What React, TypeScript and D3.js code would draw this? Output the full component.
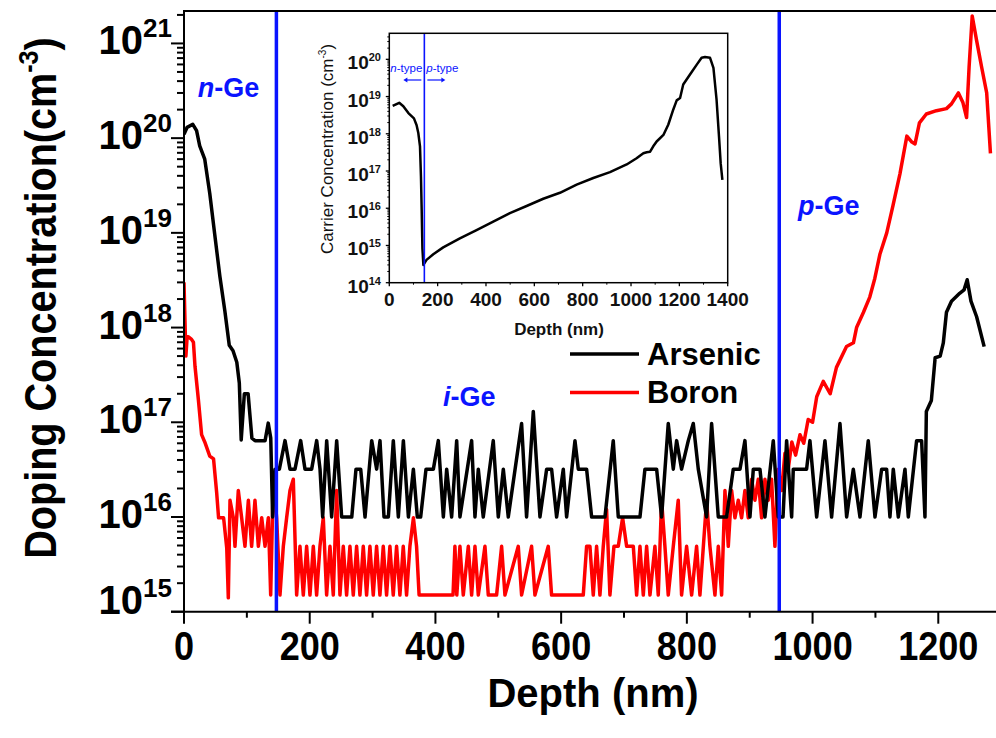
import React from 'react';
import * as d3 from 'd3';

// ---------- data (depth nm, concentration cm^-3) ----------
const arsenic: [number, number][] = [
  [0, 1.1e20], [5, 1.3e20], [14, 1.4e20], [20, 1.2e20], [25, 8.3e19], [33, 6e19], [41, 2.6e19],
  [49, 9.5e18], [57, 3.5e18], [65, 1.5e18], [72, 6.5e17], [78, 5.7e17], [84, 4.3e17], [88, 2.6e17],
  [91, 6.5e16], [96, 2e17], [102, 2e17], [108, 6.8e16], [113, 6.4e16], [129, 6.4e16], [134, 9.8e16],
  [138, 6.8e16], [141, 1e16], [145, 3.2e16], [151.7, 3.2e16], [160.7, 6.4e16], [168.6, 3.2e16],
  [176.6, 3.2e16], [185.6, 6.4e16], [192.5, 3.2e16], [203.1, 3.2e16], [211.1, 6.4e16], [216.4, 3.2e16],
  [220.6, 1e16], [227, 6.4e16], [234.9, 1e16], [242.9, 6.4e16], [250.8, 1e16], [266.9, 1e16],
  [273.6, 3.2e16], [281.1, 3.2e16], [288, 1e16], [298.6, 6.4e16], [306.5, 3.2e16], [311.8, 6.4e16],
  [318.2, 1e16], [325.1, 1e16], [333, 6.4e16], [341, 1e16], [349, 6.4e16], [357, 1e16], [364.9, 3.2e16],
  [371.2, 1e16], [376.5, 1e16], [385, 3.2e16], [396.7, 3.2e16], [404.6, 6.4e16], [412.6, 1e16],
  [417.9, 3.2e16], [425.8, 1e16], [433.8, 6.4e16], [439, 1e16], [457.6, 6.4e16], [462.9, 1e16],
  [468.2, 3.2e16], [476.1, 1e16], [492, 6.4e16], [500, 1e16], [508, 3.2e16], [515.9, 1e16],
  [537.1, 9.7e16], [545, 1e16], [555.7, 1.3e17], [566.3, 1e16], [576.9, 3.2e16], [584.8, 3.2e16],
  [592.8, 1e16], [603.4, 3.2e16], [608.7, 1e16], [622, 6.4e16], [627.3, 3.2e16], [640.5, 3.2e16],
  [648.5, 1e16], [669.7, 1e16], [682.9, 6.4e16], [690.9, 1e16], [725.4, 1e16], [733.3, 3.2e16],
  [751.9, 3.2e16], [759.8, 1e16], [770.4, 9.7e16], [778.4, 3.2e16], [783.7, 6.4e16], [791.6, 3.2e16],
  [802.3, 6.4e16], [810.2, 9.7e16], [818.2, 3.2e16], [831.4, 1e16], [839.4, 9.7e16], [850, 1e16],
  [863.2, 1e16], [873.8, 3.2e16], [884.5, 3.2e16], [892.4, 6.4e16], [900.4, 1e16], [905.7, 3.2e16],
  [916.3, 3.2e16], [924.2, 1e16], [937.5, 6.4e16], [945.4, 1e16], [953, 1e16], [958.7, 6.4e16],
  [966.7, 1e16], [969.3, 3.2e16], [990.5, 3.2e16], [995.8, 6.4e16], [1006.5, 1e16], [1019.7, 6.4e16],
  [1030.3, 1e16], [1043.6, 9.7e16], [1054.2, 1e16], [1064.8, 3.2e16], [1075.4, 1e16], [1088.6, 6.4e16],
  [1099.3, 1e16], [1109.9, 3.2e16], [1117.8, 3.2e16], [1123.1, 1e16], [1128.4, 3.2e16], [1136.4, 1e16],
  [1147, 3.2e16], [1152.3, 1e16], [1165.5, 6.4e16], [1173.5, 6.4e16], [1178.8, 1e16], [1181, 1.3e17],
  [1189, 1.7e17], [1195, 4.8e17], [1203, 5e17], [1208, 6.9e17], [1213, 1.45e18], [1221, 1.9e18],
  [1234, 2.3e18], [1241, 2.5e18], [1246, 3.2e18], [1252, 1.9e18], [1261, 1.3e18], [1273, 6.3e17],
];

const boron: [number, number][] = [
  [0, 3e18], [3, 5e17], [5, 8e17], [7, 8e17], [12, 7.5e17], [15, 7e17], [17.5, 3.9e17], [23, 1.7e17],
  [28, 7.4e16], [33, 6.2e16], [41, 4.4e16], [47, 4.1e16], [52, 1.8e16], [55, 9.8e15], [63, 9.8e15],
  [68, 4.7e15], [70.5, 1.4e15], [73.2, 1.5e16], [78.5, 9.8e15], [81.1, 4.9e15], [86.4, 1.9e16],
  [91.7, 9.8e15], [97, 4.9e15], [102.4, 1.5e16], [107.6, 4.9e15], [112.9, 1.5e16], [118.3, 4.9e15],
  [123.6, 9.8e15], [128.9, 4.9e15], [134.2, 9.8e15], [137.9, 1.5e15], [142.1, 2.5e16], [147.4, 9.8e15],
  [152.7, 1.5e15], [158, 4.9e15], [163.3, 9.8e15], [168.6, 1.9e16], [173.9, 2.5e16], [179.2, 1.5e15],
  [184.5, 4.9e15], [189.8, 1.5e15], [195.1, 4.9e15], [200.4, 1.5e15], [205.7, 4.9e15], [211, 1.5e15],
  [216.3, 4.9e15], [221.6, 9.8e15], [226.9, 1.5e15], [232.2, 4.9e15], [237.5, 1.5e15], [242.8, 1.9e16],
  [248.1, 1.5e15], [253.4, 4.9e15], [258.7, 1.5e15], [264, 4.9e15], [269.3, 1.5e15], [274.6, 4.9e15],
  [279.9, 1.5e15], [285.2, 4.9e15], [290.5, 1.5e15], [295.8, 4.9e15], [301.1, 1.5e15], [306.4, 4.9e15],
  [311.7, 1.5e15], [317, 4.9e15], [322.3, 1.5e15], [327.6, 4.9e15], [332.9, 1.5e15], [338.2, 4.9e15],
  [343.5, 1.5e15], [348.8, 4.9e15], [354.1, 1.5e15], [359.4, 4.9e15], [365, 9.8e15], [370, 4.9e15],
  [374, 1.5e15], [428, 1.5e15], [431, 4.9e15], [434, 1.5e15], [439, 4.9e15], [444.3, 1.5e15],
  [452.3, 4.9e15], [457.6, 1.5e15], [462.9, 4.9e15], [468.2, 1.5e15], [478.8, 4.9e15], [484.1, 1.5e15],
  [497.3, 1.5e15], [505.3, 4.9e15], [510.6, 1.5e15], [531.8, 4.9e15], [537.1, 1.5e15], [553, 4.9e15],
  [558.3, 1.5e15], [579.5, 4.9e15], [584.8, 1.5e15], [635.2, 1.5e15], [640.5, 4.9e15], [645.8, 4.9e15],
  [651.1, 1.5e15], [656.4, 4.9e15], [661.7, 1.5e15], [667, 4.9e15], [672.3, 1.2e16], [677.6, 1.5e15],
  [684, 4.9e15], [690.9, 4.9e15], [697.8, 9.8e15], [704.2, 4.9e15], [714.8, 4.9e15], [720.1, 1.5e15],
  [725.4, 4.9e15], [730.7, 1.5e15], [736, 4.9e15], [741.3, 1.5e15], [749.2, 4.9e15], [754.5, 1.5e15],
  [759.8, 1.5e16], [765.1, 4.9e15], [770.4, 1.5e15], [778.4, 4.9e15], [786.3, 1.5e16], [791.6, 1.5e15],
  [799.6, 4.9e15], [807.6, 1.5e15], [815.5, 4.9e15], [820.8, 1.5e15], [831.4, 1.5e16], [836.7, 4.9e15],
  [844.7, 1.5e15], [850, 4.9e15], [855.3, 1.5e15], [860.6, 1.9e16], [865.9, 4.9e15], [871.2, 1.9e16],
  [876.5, 9.8e15], [881.8, 1.5e16], [887.1, 9.8e15], [892.4, 1.9e16], [897.7, 9.8e15], [903, 2.5e16],
  [908.3, 1.5e16], [913.6, 2.5e16], [918.9, 9.8e15], [924.2, 2.5e16], [929.5, 1.5e16], [934.8, 2.5e16],
  [940.1, 4.9e15], [945.4, 3.2e16], [950.7, 1.9e16], [956, 4.7e16], [961.3, 3.2e16], [967, 6.2e16],
  [973, 4.5e16], [980, 7.4e16], [986, 6e16], [993, 1.07e17], [1000, 1e17], [1006.6, 1.86e17],
  [1017, 2.7e17], [1028, 2e17], [1038, 3.8e17], [1054, 6.3e17], [1065, 6.9e17], [1070, 1e18],
  [1081, 1.45e18], [1091, 2.1e18], [1099, 3.3e18], [1107, 5.9e18], [1118, 1e19], [1128, 1.95e19],
  [1139, 4.2e19], [1150, 1.05e20], [1158, 9.1e19], [1163, 8.7e19], [1170, 1.45e20], [1181, 1.8e20],
  [1197, 1.95e20], [1213, 2.05e20], [1221, 2.3e20], [1232, 3e20], [1239, 2.4e20], [1245, 1.65e20],
  [1249, 5.6e20], [1254, 1.95e21], [1261, 1.07e21], [1269, 5.6e20], [1277, 3e20], [1283, 6.9e19],
];

const carrier: [number, number][] = [
  [14, 5.6e18], [41, 6.8e18], [58, 5.5e18], [79, 3.6e18], [102, 2.6e18], [113, 1.7e18], [120, 1.05e18],
  [127, 4.6e17], [131, 7e16], [134, 9e15], [137, 8.3e14], [141, 3e14], [154, 4.1e14], [182, 5.8e14],
  [223, 8.9e14], [292, 1.55e15], [361, 2.6e15], [430, 4.4e15], [499, 7.4e15], [568, 1.15e16],
  [637, 1.8e16], [706, 2.6e16], [775, 4.3e16], [844, 6.5e16], [913, 9.3e16], [982, 1.5e17],
  [1023, 2.2e17], [1051, 3e17], [1065, 3.2e17], [1079, 3.3e17], [1092, 4.6e17], [1106, 6.2e17],
  [1134, 9.3e17], [1154, 1.75e18], [1175, 4.5e18], [1189, 7.9e18], [1203, 9.1e18], [1216, 2.1e19],
  [1244, 3.9e19], [1272, 7.2e19], [1292, 1.1e20], [1306, 1.15e20], [1327, 1.1e20], [1341, 5.9e19],
  [1354, 8.1e18], [1364, 8.5e17], [1371, 1.6e17], [1378, 5.8e16],
];

const mainXTicks = [0, 200, 400, 600, 800, 1000, 1200];
const mainXMinor = [100, 300, 500, 700, 900, 1100];
const mainYExps = [15, 16, 17, 18, 19, 20, 21];
const insetXTicks = [0, 200, 400, 600, 800, 1000, 1200, 1400];
const insetXMinor = [100, 300, 500, 700, 900, 1100, 1300];
const insetYExps = [14, 15, 16, 17, 18, 19, 20];
const junctions = [147, 947];
const insetJunction = 145;
const regionLabels = [
  { pre: 'n', rest: '-Ge', depth: 22, conc: 2.7e20 },
  { pre: 'i', rest: '-Ge', depth: 412, conc: 1.5e17 },
  { pre: 'p', rest: '-Ge', depth: 977, conc: 1.55e19 },
];
const legendItems = [
  { name: 'Arsenic', color: '#000000' },
  { name: 'Boron', color: '#ff0000' },
];

const FONT = '"Liberation Sans", Arial, sans-serif';
const BLUE = '#0a14ff';

function minorLogs(lo: number, hi: number, exps: number[]) {
  const out: number[] = [];
  exps.concat([exps[exps.length - 1] + 1]).forEach((e) => {
    for (let k = 2; k <= 9; k++) {
      const v = k * Math.pow(10, e);
      if (v > lo && v < hi) out.push(v);
    }
  });
  return out;
}

export default function App() {
  // main plot
  const L = 184, R = 998, T = 11, B = 611.7;
  const x = d3.scaleLinear().domain([0, 1295]).range([L, R]);
  const y = d3.scaleLog().domain([1e15, 2.2e21]).range([B, T]);
  const line = d3.line<[number, number]>().x((d) => x(d[0])).y((d) => y(d[1]));
  const yMinor = minorLogs(1e15, 2.2e21, mainYExps);

  // inset
  const iL = 389.3, iR = 727.7, iT = 33.3, iB = 282.7;
  const ix = d3.scaleLinear().domain([0, 1400]).range([iL, iR]);
  const iy = d3.scaleLog().domain([1e14, 5e20]).range([iB, iT]);
  const iline = d3.line<[number, number]>().x((d) => ix(d[0])).y((d) => iy(d[1]));
  const iyMinor = minorLogs(1e14, 5e20, insetYExps);

  return (
    <svg width={996} height={738} style={{ position: 'absolute', left: 0, top: 0, background: '#fff' }}
      fontFamily={FONT}>
      <rect x={0} y={0} width={996} height={738} fill="#fff" />
      <defs>
        <clipPath id="mainClip"><rect x={L} y={T} width={R - L} height={B - T} /></clipPath>
      </defs>

      {/* curves */}
      <g clipPath="url(#mainClip)" fill="none" strokeLinejoin="round">
        <path d={line(boron) || ''} stroke="#ff0000" strokeWidth={3.5} />
        <path d={line(arsenic) || ''} stroke="#000" strokeWidth={3.5} />
      </g>

      {/* junction lines */}
      {junctions.map((j) => (
        <line key={j} x1={x(j)} x2={x(j)} y1={T} y2={B} stroke={BLUE} strokeWidth={3.5} />
      ))}

      {/* frame */}
      <line x1={L} x2={L} y1={T} y2={B} stroke="#000" strokeWidth={2} />
      <line x1={L - 13} x2={R} y1={B} y2={B} stroke="#000" strokeWidth={2} />
      <line x1={L - 1} x2={R} y1={T} y2={T} stroke="#000" strokeWidth={2} />

      {/* x ticks */}
      {mainXTicks.map((t) => (
        <g key={t}>
          <line x1={x(t)} x2={x(t)} y1={B} y2={B + 12} stroke="#000" strokeWidth={2} />
          <text transform={`translate(${x(t)},660) scale(0.88,1)`} textAnchor="middle" fontSize={41}
            fontWeight="bold">{t}</text>
        </g>
      ))}
      {mainXMinor.map((t) => (
        <line key={t} x1={x(t)} x2={x(t)} y1={B} y2={B + 6} stroke="#000" strokeWidth={2} />
      ))}
      <text x={593} y={707} textAnchor="middle" fontSize={40} fontWeight="bold">Depth (nm)</text>

      {/* y ticks */}
      {mainYExps.map((e) => (
        <g key={e}>
          <line x1={L - 13} x2={L} y1={y(Math.pow(10, e))} y2={y(Math.pow(10, e))} stroke="#000" strokeWidth={2} />
          <text x={172} y={Math.min(y(Math.pow(10, e)) + 11, B + 2)} textAnchor="end" fontWeight="bold">
            <tspan fontSize={40}>10</tspan>
            <tspan fontSize={26} dy={-17}>{e}</tspan>
          </text>
        </g>
      ))}
      {yMinor.map((v) => (
        <line key={v} x1={L - 7} x2={L} y1={y(v)} y2={y(v)} stroke="#000" strokeWidth={2} />
      ))}
      <text transform={`translate(56,298) rotate(-90) scale(0.9,1)`} textAnchor="middle" fontSize={44}
        fontWeight="bold">
        Doping Concentration(cm<tspan fontSize={28} dy={-18}>-3</tspan><tspan dy={18}>)</tspan>
      </text>

      {/* region labels */}
      {regionLabels.map((r) => (
        <text key={r.pre} x={x(r.depth)} y={y(r.conc)} fontSize={27} fontWeight="bold" fill={BLUE}>
          <tspan fontStyle="italic">{r.pre}</tspan>{r.rest}
        </text>
      ))}

      {/* legend */}
      {legendItems.map((it, i) => (
        <g key={it.name}>
          <line x1={570} x2={639} y1={354 + i * 38.5} y2={354 + i * 38.5} stroke={it.color} strokeWidth={3.5} />
          <text x={647} y={364.5 + i * 38.5} fontSize={31} fontWeight="bold">{it.name}</text>
        </g>
      ))}

      {/* ------- inset ------- */}
      <rect x={iL} y={iT} width={iR - iL} height={iB - iT} fill="#fff" />
      <path d={iline(carrier) || ''} fill="none" stroke="#000" strokeWidth={2.5} strokeLinejoin="round" />
      <line x1={ix(insetJunction)} x2={ix(insetJunction)} y1={iT} y2={iB} stroke={BLUE} strokeWidth={1.6} />
      <rect x={iL} y={iT} width={iR - iL} height={iB - iT} fill="none" stroke="#000" strokeWidth={1.5} />
      {insetYExps.map((e) => (
        <g key={e}>
          <line x1={iL - 3.5} x2={iL} y1={iy(Math.pow(10, e))} y2={iy(Math.pow(10, e))} stroke="#000" strokeWidth={1.3} />
          <text x={381} y={iy(Math.pow(10, e)) + 10} textAnchor="end" fontWeight="bold" fill="#111">
            <tspan fontSize={19}>10</tspan>
            <tspan fontSize={11} dy={-8}>{e}</tspan>
          </text>
        </g>
      ))}
      {iyMinor.map((v) => (
        <line key={v} x1={iL - 2} x2={iL} y1={iy(v)} y2={iy(v)} stroke="#000" strokeWidth={1} />
      ))}
      {insetXTicks.map((t) => (
        <g key={t}>
          <line x1={ix(t)} x2={ix(t)} y1={iB} y2={iB + 3.5} stroke="#000" strokeWidth={1.3} />
          <text x={ix(t)} y={306} textAnchor="middle" fontSize={19} fontWeight="bold" fill="#111">{t}</text>
        </g>
      ))}
      {insetXMinor.map((t) => (
        <line key={t} x1={ix(t)} x2={ix(t)} y1={iB} y2={iB + 2} stroke="#000" strokeWidth={1} />
      ))}
      <text x={559} y={335} textAnchor="middle" fontSize={17} fontWeight="bold" fill="#111">Depth (nm)</text>
      <text transform={`translate(332.5,149) rotate(-90)`} textAnchor="middle" fontSize={17} fill="#111">
        Carrier Concentration (cm<tspan fontSize={10} dy={-7}>-3</tspan><tspan dy={7}>)</tspan>
      </text>
      <text x={ix(insetJunction) - 2} y={72} textAnchor="end" fontSize={11.5} fill={BLUE}>
        <tspan fontStyle="italic">n</tspan>-type
      </text>
      <text x={ix(insetJunction) + 2} y={72} textAnchor="start" fontSize={11.5} fill={BLUE}>
        <tspan fontStyle="italic">p</tspan>-type
      </text>
      <line x1={ix(insetJunction) - 3} x2={ix(insetJunction) - 19} y1={80} y2={80} stroke={BLUE} strokeWidth={1.2} />
      <path d={`M${ix(insetJunction) - 21},80 l4,-2.5 v5 z`} fill={BLUE} />
      <line x1={ix(insetJunction) + 3} x2={ix(insetJunction) + 19} y1={80} y2={80} stroke={BLUE} strokeWidth={1.2} />
      <path d={`M${ix(insetJunction) + 21},80 l-4,-2.5 v5 z`} fill={BLUE} />
    </svg>
  );
}
